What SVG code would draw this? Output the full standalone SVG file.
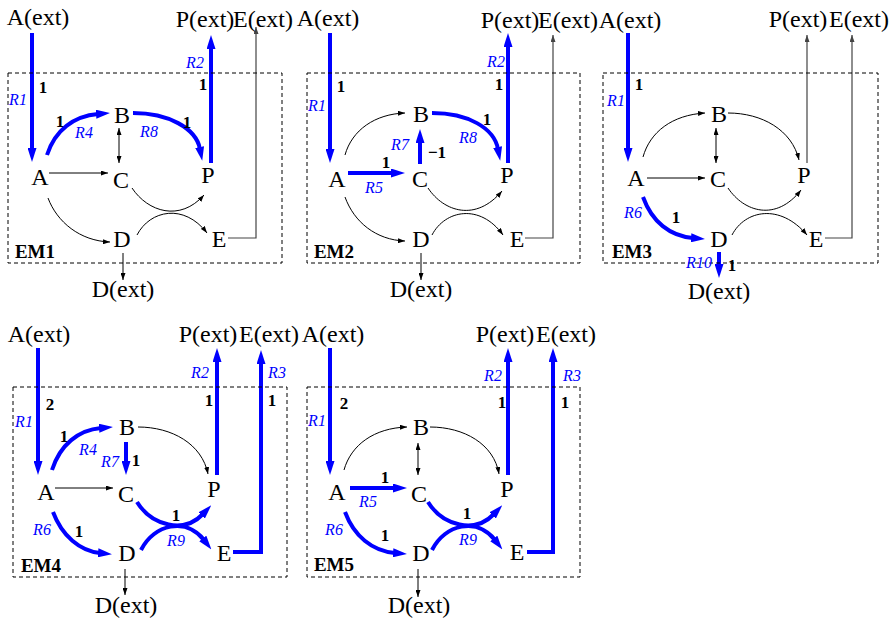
<svg xmlns="http://www.w3.org/2000/svg" width="893" height="624" viewBox="0 0 893 624">
<style>
.n{font-family:"Liberation Serif","Times New Roman",serif;font-size:24px;fill:#000;text-anchor:middle}
.num{font-family:"Liberation Serif","Times New Roman",serif;font-size:17px;font-weight:bold;fill:#000;text-anchor:middle}
.r{font-family:"Liberation Serif","Times New Roman",serif;font-size:16px;font-style:italic;fill:#0000ff;text-anchor:middle}
.em{font-family:"Liberation Serif","Times New Roman",serif;font-size:19px;font-weight:bold;fill:#000;text-anchor:middle}
.box{fill:none;stroke:#000;stroke-width:1;stroke-dasharray:4,3}
.t{fill:none;stroke:#000;stroke-width:1;marker-end:url(#ah)}
.tg{fill:none;stroke:#444;stroke-width:1.2;marker-end:url(#ag)}
.tt{fill:none;stroke:#000;stroke-width:1;marker-end:url(#ah);marker-start:url(#ah)}
.b{fill:none;stroke:#0000ff;stroke-width:4;marker-end:url(#ab)}
</style>
<defs>
<marker id="ah" viewBox="0 0 7 5" markerWidth="7" markerHeight="5" refX="7" refY="2.5" orient="auto-start-reverse" markerUnits="userSpaceOnUse"><path d="M0,0 L7,2.5 L0,5 z" fill="#000"/></marker>
<marker id="ag" viewBox="0 0 7 5" markerWidth="7" markerHeight="5" refX="7" refY="2.5" orient="auto" markerUnits="userSpaceOnUse"><path d="M0,0 L7,2.5 L0,5 z" fill="#444"/></marker>
<marker id="ab" viewBox="0 0 14 9" markerWidth="14" markerHeight="9" refX="2" refY="4.5" orient="auto" markerUnits="userSpaceOnUse"><path d="M0,0 L14,4.5 L0,9 z" fill="#0000ff"/></marker>
</defs>
<rect width="893" height="624" fill="#fff"/>

<g id="connectors">
<!-- EM1 -->
<path class="b" d="M32,33 V150"/>
<path class="b" d="M47,155 C55,130 74,116 98,114"/>
<path class="b" d="M133,113 C168,113 196,128 200,149"/>
<path class="b" d="M211,163 V47"/>
<path class="t" d="M49,173 H108"/>
<path class="tt" d="M119,128 V163"/>
<path class="t" d="M48,198 C57,222 80,241 110,242"/>
<path class="t" d="M132,188 C148,212 180,222 204,195"/>
<path class="t" d="M137,235 C150,210 184,203 207,233"/>
<path class="tg" d="M228,238 H256 V27"/>
<path class="t" d="M123,253 V280"/>
<!-- EM2 -->
<path class="b" d="M330,33 V151"/>
<path class="t" d="M345,155 C352,130 375,114 405,113"/>
<path class="b" d="M348,173 H393"/>
<path class="b" d="M420,164 V141"/>
<path class="b" d="M432,113 C468,113 494,128 498,149"/>
<path class="b" d="M508,163 V45"/>
<path class="t" d="M345,197 C354,222 376,240 405,241"/>
<path class="t" d="M428,188 C444,212 476,222 502,191"/>
<path class="t" d="M432,235 C445,210 480,203 503,235"/>
<path class="tg" d="M525,238 H553 V35"/>
<path class="t" d="M421,253 V280"/>
<!-- EM3 -->
<path class="b" d="M628,33 V150"/>
<path class="t" d="M643,157 C650,132 672,115 705,113"/>
<path class="t" d="M647,178 H705"/>
<path class="tt" d="M716,128 V163"/>
<path class="t" d="M728,113 C762,113 792,130 799,160"/>
<path class="tg" d="M807,163 V35"/>
<path class="b" d="M643,197 C652,222 670,236 693,238"/>
<path class="t" d="M728,188 C744,212 776,222 801,190"/>
<path class="t" d="M732,235 C745,210 780,203 807,235"/>
<path class="tg" d="M825,238 H852 V35"/>
<path class="b" d="M719,252 V266"/>
<!-- EM4 -->
<path class="b" d="M38,348 V463"/>
<path class="b" d="M52,470 C60,445 78,430 101,428"/>
<path class="b" d="M126,442 V463"/>
<path class="t" d="M55,488 H113"/>
<path class="t" d="M138,427 C172,427 202,444 208,474"/>
<path class="b" d="M53,512 C62,536 80,551 100,553"/>
<path class="b" d="M137,502 C152,526 184,534 203,514"/>
<path class="b" d="M141,550 C154,524 186,517 204,540"/>
<path class="b" d="M217,475 V360"/>
<path class="b" d="M233,552 H261 V362"/>
<path class="t" d="M125,569 V595"/>
<!-- EM5 -->
<path class="b" d="M330,348 V463"/>
<path class="t" d="M344,470 C351,445 374,428 407,427"/>
<path class="tt" d="M418,443 V475"/>
<path class="t" d="M430,427 C464,427 494,444 499,474"/>
<path class="b" d="M350,488 H395"/>
<path class="b" d="M345,512 C354,536 372,551 395,553"/>
<path class="b" d="M428,502 C443,526 475,534 494,514"/>
<path class="b" d="M432,550 C445,524 477,517 495,540"/>
<path class="b" d="M508,475 V360"/>
<path class="b" d="M527,552 H553 V360"/>
<path class="t" d="M418,569 V597"/>
</g>

<g id="em1">
<rect class="box" x="8" y="73" width="274" height="190"/>
<text class="em" x="35" y="258">EM1</text>
<g id="em1-Aext"><text class="n" x="38" y="25">A(ext)</text></g>
<g id="em1-Pext"><text class="n" x="205" y="27">P(ext)</text></g>
<g id="em1-Eext"><text class="n" x="263" y="27">E(ext)</text></g>
<g id="em1-A"><text class="n" x="40" y="185">A</text></g>
<g id="em1-B"><text class="n" x="122" y="123">B</text></g>
<g id="em1-C"><text class="n" x="121" y="188">C</text></g>
<g id="em1-P"><text class="n" x="208" y="183">P</text></g>
<g id="em1-D"><text class="n" x="122" y="247">D</text></g>
<g id="em1-E"><text class="n" x="219" y="247">E</text></g>
<g id="em1-Dext"><text class="n" x="123" y="297">D(ext)</text></g>
<text class="num" x="43" y="93">1</text><text class="r" x="18" y="105">R1</text>
<text class="r" x="195" y="68">R2</text><text class="num" x="203" y="90">1</text>
<text class="num" x="60" y="127">1</text><text class="r" x="84" y="138">R4</text>
<text class="r" x="149" y="137">R8</text><text class="num" x="187" y="128">1</text>
</g>

<g id="em2">
<rect class="box" x="307" y="73" width="273" height="190"/>
<text class="em" x="334" y="258">EM2</text>
<g id="em2-Aext"><text class="n" x="328" y="26">A(ext)</text></g>
<g id="em2-Pext"><text class="n" x="510" y="28">P(ext)</text></g>
<g id="em2-Eext"><text class="n" x="568" y="28">E(ext)</text></g>
<g id="em2-A"><text class="n" x="337" y="187">A</text></g>
<g id="em2-B"><text class="n" x="421" y="122">B</text></g>
<g id="em2-C"><text class="n" x="420" y="187">C</text></g>
<g id="em2-P"><text class="n" x="507" y="183">P</text></g>
<g id="em2-D"><text class="n" x="421" y="247">D</text></g>
<g id="em2-E"><text class="n" x="517" y="247">E</text></g>
<g id="em2-Dext"><text class="n" x="421" y="297">D(ext)</text></g>
<text class="num" x="341" y="92">1</text><text class="r" x="317" y="111">R1</text>
<text class="num" x="386" y="168">1</text><text class="r" x="374" y="193">R5</text>
<text class="r" x="400" y="150">R7</text><text class="num" x="437" y="158">−1</text>
<text class="num" x="487" y="125">1</text><text class="r" x="468" y="143">R8</text>
<text class="r" x="496" y="67">R2</text><text class="num" x="499" y="90">1</text>
</g>

<g id="em3">
<rect class="box" x="603" y="73" width="275" height="190"/>
<text class="em" x="632" y="258">EM3</text>
<g id="em3-Aext"><text class="n" x="630" y="28">A(ext)</text></g>
<g id="em3-Pext"><text class="n" x="798" y="27">P(ext)</text></g>
<g id="em3-Eext"><text class="n" x="859" y="27">E(ext)</text></g>
<g id="em3-A"><text class="n" x="636" y="186">A</text></g>
<g id="em3-B"><text class="n" x="719" y="122">B</text></g>
<g id="em3-C"><text class="n" x="718" y="187">C</text></g>
<g id="em3-P"><text class="n" x="804" y="183">P</text></g>
<g id="em3-D"><text class="n" x="719" y="247">D</text></g>
<g id="em3-E"><text class="n" x="816" y="247">E</text></g>
<g id="em3-Dext"><text class="n" x="719" y="299">D(ext)</text></g>
<text class="num" x="639" y="90">1</text><text class="r" x="616" y="106">R1</text>
<text class="r" x="633" y="218">R6</text><text class="num" x="676" y="223">1</text>
<text class="r" x="699" y="268">R10</text><text class="num" x="732" y="271">1</text>
</g>

<g id="em4">
<rect class="box" x="13" y="387" width="274" height="190"/>
<text class="em" x="41" y="572">EM4</text>
<g id="em4-Aext"><text class="n" x="39" y="342">A(ext)</text></g>
<g id="em4-Pext"><text class="n" x="208" y="342">P(ext)</text></g>
<g id="em4-Eext"><text class="n" x="269" y="342">E(ext)</text></g>
<g id="em4-A"><text class="n" x="46" y="500">A</text></g>
<g id="em4-B"><text class="n" x="127" y="435">B</text></g>
<g id="em4-C"><text class="n" x="126" y="502">C</text></g>
<g id="em4-P"><text class="n" x="214" y="497">P</text></g>
<g id="em4-D"><text class="n" x="127" y="561">D</text></g>
<g id="em4-E"><text class="n" x="224" y="561">E</text></g>
<g id="em4-Dext"><text class="n" x="126" y="613">D(ext)</text></g>
<text class="num" x="50" y="410">2</text><text class="r" x="24" y="427">R1</text>
<text class="num" x="64" y="442">1</text><text class="r" x="88" y="455">R4</text>
<text class="r" x="110" y="467">R7</text><text class="num" x="136" y="466">1</text>
<text class="r" x="42" y="535">R6</text><text class="num" x="79" y="537">1</text>
<text class="num" x="176" y="521">1</text><text class="r" x="176" y="546">R9</text>
<text class="r" x="200" y="378">R2</text><text class="num" x="209" y="406">1</text>
<text class="r" x="277" y="378">R3</text><text class="num" x="272" y="406">1</text>
</g>

<g id="em5">
<rect class="box" x="307" y="387" width="273" height="190"/>
<text class="em" x="334" y="571">EM5</text>
<g id="em5-Aext"><text class="n" x="333" y="342">A(ext)</text></g>
<g id="em5-Pext"><text class="n" x="505" y="342">P(ext)</text></g>
<g id="em5-Eext"><text class="n" x="566" y="342">E(ext)</text></g>
<g id="em5-A"><text class="n" x="337" y="500">A</text></g>
<g id="em5-B"><text class="n" x="421" y="435">B</text></g>
<g id="em5-C"><text class="n" x="419" y="502">C</text></g>
<g id="em5-P"><text class="n" x="507" y="497">P</text></g>
<g id="em5-D"><text class="n" x="421" y="561">D</text></g>
<g id="em5-E"><text class="n" x="517" y="560">E</text></g>
<g id="em5-Dext"><text class="n" x="419" y="613">D(ext)</text></g>
<text class="num" x="344" y="409">2</text><text class="r" x="317" y="426">R1</text>
<text class="num" x="385" y="483">1</text><text class="r" x="368" y="507">R5</text>
<text class="r" x="334" y="535">R6</text><text class="num" x="385" y="541">1</text>
<text class="num" x="467" y="519">1</text><text class="r" x="468" y="545">R9</text>
<text class="r" x="493" y="381">R2</text><text class="num" x="502" y="408">1</text>
<text class="r" x="572" y="381">R3</text><text class="num" x="565" y="408">1</text>
</g>
</svg>
